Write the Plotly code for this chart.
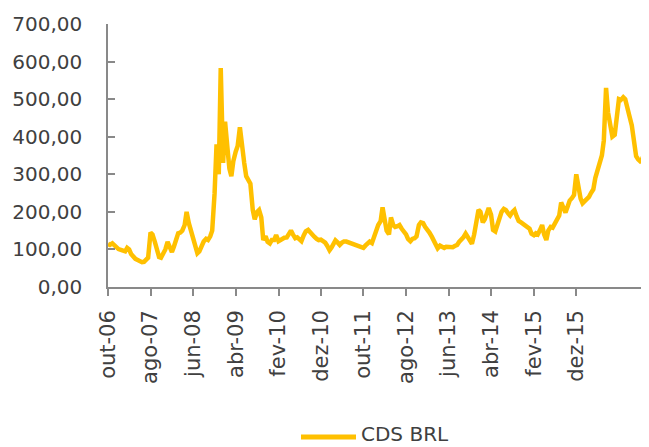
import pandas as pd
import plotly.graph_objects as go

cds_2006_2008 = [115, 112, 116, 110, 104, 101, 99, 97, 95, 104,
                 100, 88, 80, 75, 72, 68, 66, 67, 72, 78,
                 145, 140, 120, 95, 80, 78, 90, 100, 120, 105,
                 93, 107, 125, 143, 145, 150, 165, 200, 170, 150,
                 125, 105, 90, 95, 110, 121, 128, 125, 135, 150]
cds_2008_2010 = [249, 380, 300, 583, 330, 440, 370, 315, 295, 335,
                 360, 375, 425, 370, 330, 295, 280, 275, 205, 180,
                 200, 205, 185, 125, 135, 120, 116, 125, 125, 138, 122]
cds_2010_2012 = [125, 130, 131, 132, 140, 150, 140, 130, 132, 125,
                 122, 138, 148, 152, 145, 140, 134, 128, 125, 126,
                 122, 118, 110, 98, 105, 113, 124, 118, 112, 118,
                 121, 121, 119, 117, 116, 113, 110, 107, 104, 104,
                 110, 118, 121, 117, 135, 156, 165, 175, 212, 180]
cds_2012_2014 = [150, 140, 185, 165, 160, 162, 165, 155, 150, 140,
                 128, 122, 128, 130, 135, 165, 172, 170, 160, 154,
                 145, 134, 125, 110, 103, 110, 106, 104, 107, 106,
                 105, 106, 109, 112, 120, 125, 132, 142, 135, 123,
                 115, 140, 175, 205, 200, 172, 180, 200, 210, 192,
                 152, 148, 165, 188, 200, 208, 205, 196, 190]
cds_2014_2017 = [200, 205, 188, 176, 172, 168, 162, 158, 155, 142,
                 138, 143, 140, 150, 165, 140, 125, 150, 160, 158,
                 168, 178, 190, 225, 205, 198, 215, 230, 237, 245,
                 300, 265, 235, 223, 228, 232, 240, 250, 260, 290,
                 313, 322, 350, 390, 530, 465, 420, 400, 405, 440,
                 500, 498, 505, 500, 480, 455, 430, 385, 348, 340,
                 335, 340, 355, 345, 315, 290]

cds = cds_2006_2008 + cds_2008_2010 + cds_2010_2012 + cds_2012_2014 + cds_2014_2017
datas = pd.date_range(start='2006-10-01', periods=len(cds), freq='SMS')

tick_datas = ['2006-10-01', '2007-08-01', '2008-06-01', '2009-04-01', '2010-02-01', '2010-12-01',
              '2011-10-01', '2012-08-01', '2013-06-01', '2014-04-01', '2015-02-01', '2015-12-01']
tick_labels = ['out-06', 'ago-07', 'jun-08', 'abr-09', 'fev-10', 'dez-10',
               'out-11', 'ago-12', 'jun-13', 'abr-14', 'fev-15', 'dez-15']

cor = '#FFC000'
cinza = '#898989'
texto = '#404040'

fig = go.Figure()
fig.add_trace(go.Scatter(x=datas, y=cds, mode='lines', name='CDS BRL',
                         line=dict(color=cor, width=4.5), showlegend=False))

# legend drawn by hand (plot area: x 100..641 px, y 16..279 px inside the figure)
fig.add_shape(type='line', xref='paper', yref='paper',
              x0=(301 - 108) / 541, x1=(356 - 108) / 541,
              y0=(287 - 437) / 263, y1=(287 - 437) / 263,
              line=dict(color=cor, width=5))
fig.add_annotation(text='CDS BRL', xref='paper', yref='paper',
                   x=(359 - 108) / 541, y=(287 - 434) / 263,
                   xanchor='left', yanchor='middle', showarrow=False,
                   font=dict(size=20, color=texto))

# page body has an 8px margin, so the figure is 8px smaller each way
fig.update_layout(
    width=641, height=439,
    margin=dict(l=100, r=0, t=16, b=160),
    paper_bgcolor='white', plot_bgcolor='white',
    font=dict(family='DejaVu Sans, sans-serif', size=20, color=texto),
    separators=',.',
)
fig.update_xaxes(
    type='date', range=['2006-10-01', '2017-05-04'],
    tickvals=tick_datas, ticktext=tick_labels, tickangle=-90,
    tickfont=dict(size=21),
    ticks='outside', ticklen=7, tickcolor=cinza, tickwidth=1.5,
    showline=True, linecolor=cinza, linewidth=1.5,
    showgrid=False, zeroline=False, ticklabelstandoff=6,
)
fig.update_yaxes(
    range=[0, 700], tickvals=[0, 100, 200, 300, 400, 500, 600, 700], tickformat='.2f',
    ticks='inside', ticklen=7, tickcolor=cinza, tickwidth=1.5,
    showline=True, linecolor=cinza, linewidth=1.5,
    showgrid=False, zeroline=False, ticklabelstandoff=20,
)

fig.write_html('out.html')
